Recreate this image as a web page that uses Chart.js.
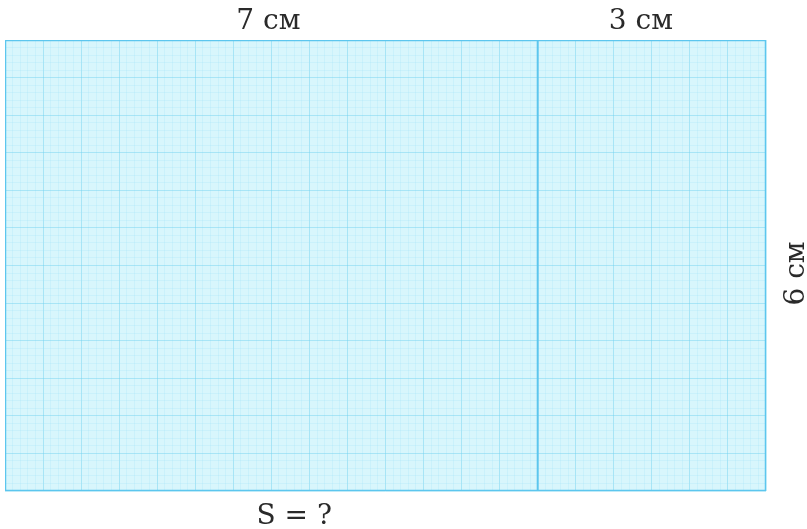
<!DOCTYPE html>
<html>
<head>
<meta charset="utf-8">
<script src="https://cdn.jsdelivr.net/npm/chart.js@4"></script>
<style>
  html, body { margin: 0; padding: 0; background: #fff; }
  canvas { display: block; }
</style>
</head>
<body>
<canvas id="c" width="807" height="529"></canvas>
<script>
"use strict";

// rectangle split into two parts (cm)
const partWidths = [7, 3];
const height = 6;
const widthLabels = ["7 см", "3 см"];
const heightLabel = "6 см";
const question = "S = ?";

const total = partWidths.reduce((a, b) => a + b, 0);
const LINE = "#5cc6ee";
const PAPER = "#d8f6fc";

const outline = [
  { x: 0, y: 0 }, { x: total, y: 0 }, { x: total, y: height },
  { x: 0, y: height }, { x: 0, y: 0 },
];
const divider = [{ x: partWidths[0], y: 0 }, { x: partWidths[0], y: height }];

// squared paper: 1 mm lines, stronger every 5 mm
const gridColor = (ctx) =>
  ctx.index % 5 === 0 ? "rgba(110,208,240,0.45)" : "rgba(160,226,248,0.25)";

const paperPlugin = {
  id: "paper",
  beforeDraw(chart) {
    const { ctx, chartArea: a } = chart;
    ctx.save();
    ctx.fillStyle = PAPER;
    ctx.fillRect(a.left, a.top, a.right - a.left, a.bottom - a.top);
    ctx.restore();
  },
};

const labelsPlugin = {
  id: "labels",
  afterDraw(chart) {
    const { ctx, scales: { x, y } } = chart;
    ctx.save();
    ctx.fillStyle = "#2a2a2a";
    ctx.font = "28px 'DejaVu Serif', 'Liberation Serif', serif";
    ctx.textAlign = "center";
    ctx.textBaseline = "alphabetic";
    let start = 0;
    partWidths.forEach((w, i) => {
      const cx = x.getPixelForValue(start + w / 2);
      ctx.fillText(widthLabels[i], cx - (i ? 11 : 3), 29);
      start += w;
    });
    ctx.fillText(question, x.getPixelForValue(3.8), 524);
    ctx.translate(804, y.getPixelForValue(height / 2) + 8);
    ctx.rotate(-Math.PI / 2);
    ctx.fillText(heightLabel, 0, 0);
    ctx.restore();
  },
};

new Chart(document.getElementById("c"), {
  type: "scatter",
  data: {
    datasets: [
      {
        data: outline, showLine: true, borderColor: LINE, borderWidth: 2.5,
        pointRadius: 0, fill: false,
      },
      {
        data: divider, showLine: true, borderColor: LINE, borderWidth: 2,
        pointRadius: 0, fill: false,
      },
    ],
  },
  options: {
    responsive: false,
    animation: false,
    devicePixelRatio: 1,
    layout: { padding: { left: 5, top: 40, right: 41, bottom: 38 } },
    plugins: { legend: { display: false }, tooltip: { enabled: false } },
    scales: {
      x: {
        type: "linear", min: 0, max: total,
        ticks: { display: false, stepSize: 0.1, autoSkip: false, maxTicksLimit: 200 },
        grid: { color: gridColor, lineWidth: 1, drawTicks: false },
        border: { display: false },
      },
      y: {
        type: "linear", min: 0, max: height,
        ticks: { display: false, stepSize: 0.1, autoSkip: false, maxTicksLimit: 200 },
        grid: { color: gridColor, lineWidth: 1, drawTicks: false },
        border: { display: false },
      },
    },
  },
  plugins: [paperPlugin, labelsPlugin],
});
</script>
</body>
</html>
